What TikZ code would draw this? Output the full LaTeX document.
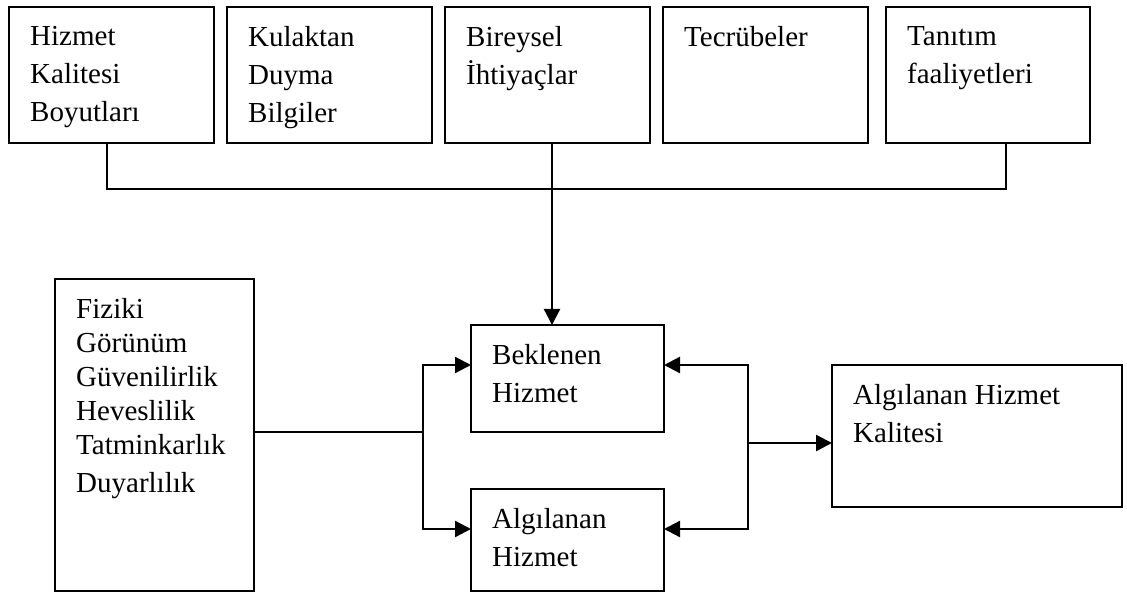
\documentclass[tikz,border=0pt]{standalone}
\usepackage{fontspec}
\setmainfont{Liberation Serif}
\usetikzlibrary{arrows.meta}

\begin{document}
\begin{tikzpicture}[x=1pt,y=-1pt,
    kutu/.style={draw,line width=1.4pt,outer sep=0pt,inner sep=0pt},
    yazi/.style={anchor=north west,align=left,inner sep=0pt,xshift=21pt,yshift=-19pt,
      font=\fontsize{29}{38}\selectfont},
    cizgi/.style={line width=1.4pt},
    ok/.style={line width=2.3pt,->,>={Triangle[length=16pt,width=16pt]}}]
  \useasboundingbox (0,0) rectangle (1127,593);
  % ust sira
  \node[kutu,minimum width=205pt,minimum height=136pt,
    label={[yazi]north west:{Hizmet\\Kalitesi\\Boyutları}}] (b1) at (111.5,75) {};
  \node[kutu,minimum width=205pt,minimum height=136pt,
    label={[yazi]north west:{Kulaktan\\Duyma\\Bilgiler}}] (b2) at (329.5,75) {};
  \node[kutu,minimum width=205pt,minimum height=136pt,
    label={[yazi]north west:{Bireysel\\İhtiyaçlar}}] (b3) at (547.5,75) {};
  \node[kutu,minimum width=205pt,minimum height=136pt,
    label={[yazi]north west:{Tecrübeler}}] (b4) at (765.5,75) {};
  \node[kutu,minimum width=204pt,minimum height=136pt,
    label={[yazi]north west:{Tanıtım\\faaliyetleri}}] (b5) at (988,75) {};
  % alt sira
  \node[kutu,minimum width=199pt,minimum height=312pt,
    label={[yazi,font=\fontsize{29}{34}\selectfont]north west:{Fiziki\\Görünüm\\Güvenilirlik\\Heveslilik\\Tatminkarlık\\[4pt]Duyarlılık}}] (fiz) at (154.5,435) {};
  \node[kutu,minimum width=193pt,minimum height=107pt,
    label={[yazi]north west:{Beklenen\\Hizmet}}] (bek) at (567.5,378.5) {};
  \node[kutu,minimum width=193pt,minimum height=102pt,
    label={[yazi]north west:{Algılanan\\Hizmet}}] (alg) at (567.5,540) {};
  \node[kutu,minimum width=290pt,minimum height=142pt,
    label={[yazi]north west:{Algılanan Hizmet\\Kalitesi}}] (kal) at (977,436) {};

  % baglantilar
  \coordinate (bs) at ([xshift=4.5pt]b3.south);
  \coordinate (jl) at (423,432);
  \coordinate (jr) at (748,443);
  \draw[cizgi] ([xshift=-4.5pt]b1.south) -- ++(0,46) -| ([xshift=18pt]b5.south);
  \draw[ok] (bs) -- (bs |- bek.north);
  \draw[cizgi] (jl -| fiz.east) -- (jl);
  \draw[ok] (jl) |- ([yshift=13.5pt]bek.west);
  \draw[ok] (jl) |- ([yshift=11pt]alg.west);
  \draw[ok] (jr) |- ([yshift=13.5pt]bek.east);
  \draw[ok] (jr) |- ([yshift=11pt]alg.east);
  \draw[ok] (jr) -- (jr -| kal.west);
\end{tikzpicture}
\end{document}
